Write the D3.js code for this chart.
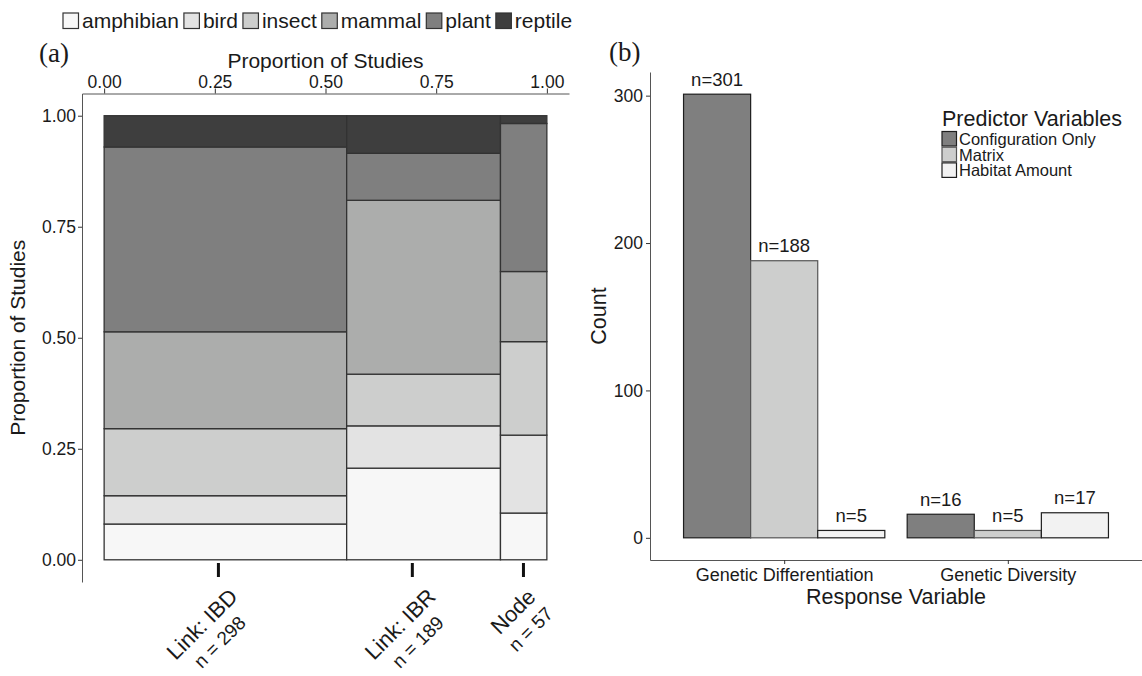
<!DOCTYPE html>
<html>
<head>
<meta charset="utf-8">
<script src="https://cdn.jsdelivr.net/npm/d3@7"></script>
<style>
  body { margin: 0; background: #fff; }
  svg { display: block; font-family: "Liberation Sans", Arial, Helvetica, sans-serif; }
  .tag { font-family: "Liberation Serif", "Times New Roman", serif; }
</style>
</head>
<body>
<svg id="chart" width="1142" height="676"></svg>
<script>
// panel (a): taxa by connectivity method
var taxa = ["amphibian", "bird", "insect", "mammal", "plant", "reptile"];
var taxonColors = ["#f7f7f7", "#e3e3e3", "#cdcecd", "#acadac", "#7f7f7f", "#3e3e3e"];
var methods = ["Link: IBD", "Link: IBR", "Node"];
var methodN = [298, 189, 57];
var methodTickPos = [0.257, 0.695, 0.946];
var ibdCounts = [24, 19, 45, 65, 124, 21];
var ibrCounts = [39, 18, 22, 74, 20, 16];
var nodeCounts = [6, 10, 12, 9, 19, 1];
var propTicks = [0, 0.25, 0.5, 0.75, 1];

// panel (b): predictor variables by response
var responses = ["Genetic Differentiation", "Genetic Diversity"];
var predictors = ["Configuration Only", "Matrix", "Habitat Amount"];
var predictorColors = ["#7f7f7f", "#cdcecd", "#f2f2f2"];
var predictorStrokes = ["#1e1e1e", "#555", "#1e1e1e"];
var diffCounts = [301, 188, 5];
var divCounts = [16, 5, 17];
var countTicks = [0, 100, 200, 300];

var svg = d3.select("#chart");
var ink = "#1a1a1a";

function styleAxis(g, size) {
  g.selectAll(".domain").attr("stroke", "#555");
  g.selectAll(".tick line").attr("stroke", "#333");
  g.selectAll(".tick text").attr("fill", ink).style("font-size", size + "px")
    .style("font-family", '"Liberation Sans", Arial, sans-serif');
}

// ---------- panel (a) ----------
var xA = d3.scaleLinear().domain([-0.05, 1.05]).range([82, 569]);
var yA = d3.scaleLinear().domain([-0.05, 1.05]).range([582, 93.5]);

var countsByMethod = [ibdCounts, ibrCounts, nodeCounts];
var total = d3.sum(methodN);
var colStart = [0].concat(Array.from(d3.cumsum(methodN)));

var tiles = [];
countsByMethod.forEach(function(counts, i) {
  var cum = [0].concat(Array.from(d3.cumsum(counts)));
  counts.forEach(function(c, j) {
    tiles.push({
      x0: colStart[i] / total, x1: colStart[i + 1] / total,
      y0: cum[j] / methodN[i], y1: cum[j + 1] / methodN[i],
      taxon: j
    });
  });
});

svg.append("g").selectAll("rect")
  .data(tiles)
  .enter().append("rect")
  .attr("x", function(d) { return xA(d.x0); })
  .attr("y", function(d) { return yA(d.y1); })
  .attr("width", function(d) { return xA(d.x1) - xA(d.x0); })
  .attr("height", function(d) { return yA(d.y0) - yA(d.y1); })
  .attr("fill", function(d) { return taxonColors[d.taxon]; })
  .attr("stroke", "#333")
  .attr("stroke-width", 1.3);

var topAxis = svg.append("g")
  .attr("transform", "translate(0," + yA.range()[1] + ")")
  .call(d3.axisTop(xA).tickValues(propTicks).tickFormat(d3.format(".2f"))
    .tickSize(5).tickSizeOuter(0).tickPadding(1));
styleAxis(topAxis, 17.5);

var leftAxis = svg.append("g")
  .attr("transform", "translate(" + xA.range()[0] + ",0)")
  .call(d3.axisLeft(yA).tickValues(propTicks).tickFormat(d3.format(".2f"))
    .tickSize(4).tickSizeOuter(0).tickPadding(2));
styleAxis(leftAxis, 17.5);

// category ticks under the columns
var catAxis = svg.append("g")
  .attr("transform", "translate(0,563)")
  .call(d3.axisBottom(xA).tickValues(methodTickPos).tickSize(14).tickFormat(""));
catAxis.select(".domain").remove();
catAxis.selectAll(".tick line").attr("stroke", "#111").attr("stroke-width", 3);

// rotated two-line labels, anchored from the column centres
methods.forEach(function(m, i) {
  var mid = (colStart[i] + colStart[i + 1]) / 2 / total;
  var g = svg.append("g")
    .attr("transform", "translate(" + (xA(mid) + 13.5) + ",598) rotate(-45)");
  var l1 = g.append("text").style("font-size", "22px").attr("fill", ink).text(m);
  var l2 = g.append("text").style("font-size", "19px").attr("fill", ink).text("n = " + methodN[i]);
  var w1 = l1.node().getComputedTextLength();
  var w2 = l2.node().getComputedTextLength();
  var w = Math.max(w1, w2);
  l1.attr("x", -w / 2 - w1 / 2);
  l2.attr("x", -w / 2 - w2 / 2).attr("y", 24);
});

svg.append("text")
  .attr("x", xA(0.5)).attr("y", 68)
  .attr("text-anchor", "middle").style("font-size", "21px").attr("fill", ink)
  .text("Proportion of Studies");

svg.append("text")
  .attr("transform", "translate(25," + yA(0.5) + ") rotate(-90)")
  .attr("text-anchor", "middle").style("font-size", "21px").attr("fill", ink)
  .text("Proportion of Studies");

svg.append("text").attr("class", "tag")
  .attr("x", 39).attr("y", 62).style("font-size", "27px").attr("fill", ink)
  .text("(a)");

// taxa legend across the top
var lx = 63;
taxa.forEach(function(t, i) {
  svg.append("rect")
    .attr("x", lx).attr("y", 13).attr("width", 15.5).attr("height", 15.5)
    .attr("fill", taxonColors[i]).attr("stroke", "#333").attr("stroke-width", 1.2);
  var txt = svg.append("text")
    .attr("x", lx + 19).attr("y", 27.5)
    .style("font-size", "21px").attr("fill", ink).text(t);
  lx = lx + 19 + txt.node().getComputedTextLength() + 5;
});

// ---------- panel (b) ----------
var xB = d3.scaleLinear().domain([0.4, 2.6]).range([650, 1142]);
var yB = d3.scaleLinear().domain([-15.05, 316.05]).range([560, 72]);
var barW = 0.3;

var bars = [];
[diffCounts, divCounts].forEach(function(counts, g) {
  counts.forEach(function(v, k) {
    bars.push({ pos: g + 1 - 0.45 + k * barW, value: v, pred: k });
  });
});

svg.append("g").selectAll("rect")
  .data(bars)
  .enter().append("rect")
  .attr("x", function(d) { return xB(d.pos); })
  .attr("y", function(d) { return yB(d.value); })
  .attr("width", xB(barW) - xB(0))
  .attr("height", function(d) { return yB(0) - yB(d.value); })
  .attr("fill", function(d) { return predictorColors[d.pred]; })
  .attr("stroke", function(d) { return predictorStrokes[d.pred]; })
  .attr("stroke-width", 1.2);

svg.append("g").selectAll("text")
  .data(bars)
  .enter().append("text")
  .attr("x", function(d) { return xB(d.pos + barW / 2); })
  .attr("y", function(d) { return yB(d.value) - 8.5; })
  .attr("text-anchor", "middle")
  .style("font-size", "18.5px").attr("fill", ink)
  .text(function(d) { return "n=" + d.value; });

var bottomAxis = svg.append("g")
  .attr("transform", "translate(0," + yB.range()[0] + ")")
  .call(d3.axisBottom(xB).tickValues([1, 2])
    .tickFormat(function(d) { return responses[d - 1]; })
    .tickSize(4).tickSizeOuter(0).tickPadding(4.5));
styleAxis(bottomAxis, 18);

var countAxis = svg.append("g")
  .attr("transform", "translate(" + xB.range()[0] + ",0)")
  .call(d3.axisLeft(yB).tickValues(countTicks).tickSize(4).tickSizeOuter(0).tickPadding(3));
styleAxis(countAxis, 17.5);

svg.append("text")
  .attr("x", (xB.range()[0] + xB.range()[1]) / 2).attr("y", 604)
  .attr("text-anchor", "middle").style("font-size", "21.5px").attr("fill", ink)
  .text("Response Variable");

svg.append("text")
  .attr("transform", "translate(606," + (yB.range()[0] + yB.range()[1]) / 2 + ") rotate(-90)")
  .attr("text-anchor", "middle").style("font-size", "21.5px").attr("fill", ink)
  .text("Count");

svg.append("text").attr("class", "tag")
  .attr("x", 609).attr("y", 61).style("font-size", "27px").attr("fill", ink)
  .text("(b)");

// predictor legend
var legB = svg.append("g").attr("transform", "translate(942,0)");
legB.append("text").attr("x", 0).attr("y", 126)
  .style("font-size", "21.5px").attr("fill", ink).text("Predictor Variables");
predictors.forEach(function(p, i) {
  var top = 131.5 + i * 15.7;
  legB.append("rect")
    .attr("x", 0).attr("y", top).attr("width", 14.5).attr("height", 14.5)
    .attr("fill", predictorColors[i]).attr("stroke", predictorStrokes[i]).attr("stroke-width", 1.2);
  legB.append("text").attr("x", 17).attr("y", top + 13.5)
    .style("font-size", "16.5px").attr("fill", ink).text(p);
});
</script>
</body>
</html>
